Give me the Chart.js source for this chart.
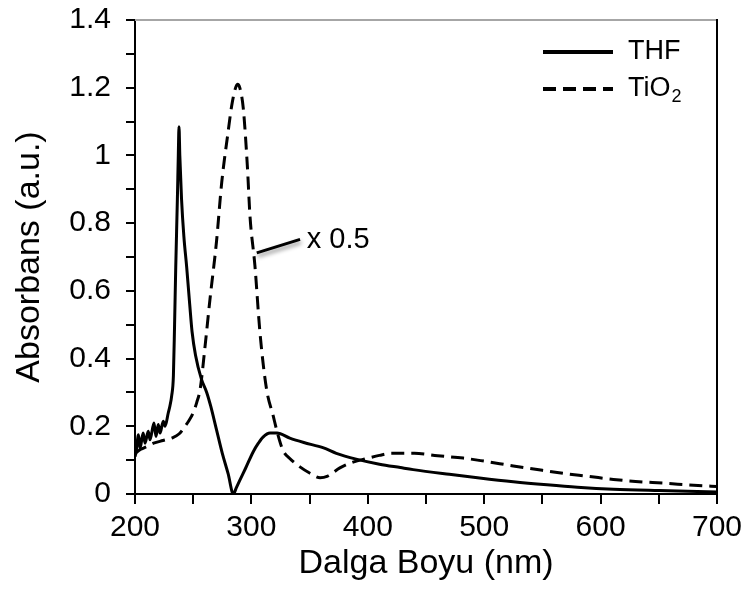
<!DOCTYPE html>
<html><head><meta charset="utf-8">
<script src="https://cdn.jsdelivr.net/npm/chart.js@4.4.1/dist/chart.umd.min.js"></script>
<style>html,body{margin:0;padding:0;background:#fff}#wrap{width:749px;height:592px}</style>
</head><body><div id="wrap"><canvas id="c" width="749" height="592"></canvas></div>
<script>
// ---- data ----
const xTicks = [200, 300, 400, 500, 600, 700];
const yTicks = [0, 0.2, 0.4, 0.6, 0.8, 1, 1.2, 1.4];
const seriesNames = ['THF', 'TiO\u2082'];
const xTitle = 'Dalga Boyu (nm)';
const yTitle = 'Absorbans (a.u.)';
const annotText = 'x 0.5';

const thfX = [200,201,203,204.3,207,208.6,211.4,212.9,216.3,218,220,221.5,224.3,225.8,228.6,230,231.5,233,234,235,236.4,237.2,237.8,238.5,240,242,244.4,247,249,252,257,261.6,265,270,275,280,284.5,287,290,295,301.6,306,310,316,322,333,345,362,373,390,410,428,439,470,496,525,554,580,611,650,700];
const thfY = [0.11,0.125,0.175,0.135,0.18,0.15,0.185,0.16,0.21,0.17,0.205,0.18,0.215,0.2,0.24,0.26,0.29,0.35,0.5,0.67,0.87,1.0,1.085,1.0,0.87,0.76,0.67,0.56,0.48,0.41,0.34,0.3,0.26,0.19,0.12,0.06,0.0,0.018,0.04,0.076,0.125,0.15,0.168,0.18,0.18,0.165,0.152,0.136,0.12,0.103,0.088,0.078,0.072,0.058,0.047,0.036,0.027,0.02,0.014,0.01,0.006];

const tioX = [200,205,210,216,224,232,238,243,246,250,253,256,260,264.4,270,274.5,280,283,286,288,290,293,296.5,298.8,303,307.4,313,318.8,322,327,333,341.7,350,359,365,376,388,398,410,420,440,460,482,500,525,550,568,590,611,630,654,680,700];
const tioY = [0.12,0.132,0.14,0.15,0.158,0.166,0.178,0.2,0.215,0.24,0.27,0.31,0.43,0.575,0.745,0.92,1.07,1.145,1.195,1.21,1.2,1.14,0.97,0.82,0.675,0.475,0.31,0.23,0.185,0.13,0.105,0.08,0.062,0.048,0.052,0.077,0.095,0.104,0.114,0.12,0.12,0.113,0.106,0.097,0.083,0.07,0.061,0.052,0.043,0.037,0.032,0.026,0.022];

// annotation anchor points in data units (nm, absorbance)
const annotFrom = [304.6, 0.712];
const annotTo = [341.8, 0.752];
const annotTextAt = [347.5, 0.75];

// ---- build ----
const FONT = '"Liberation Sans", Arial, Helvetica, sans-serif';
const toPts = (xs, ys) => xs.map((x, i) => ({x: x, y: ys[i]}));

const framePlugin = {
  id: 'frame',
  beforeDatasetsDraw(chart) {
    const {ctx, chartArea: a} = chart;
    ctx.save();
    ctx.lineWidth = 2;
    ctx.strokeStyle = '#a6a6a6';
    ctx.beginPath(); ctx.moveTo(a.left, a.top); ctx.lineTo(a.right + 1, a.top); ctx.stroke();
    ctx.strokeStyle = '#000';
    ctx.beginPath(); ctx.moveTo(a.right, a.top - 1); ctx.lineTo(a.right, a.bottom); ctx.stroke();
    ctx.restore();
  }
};

const annotPlugin = {
  id: 'annot',
  afterDatasetsDraw(chart) {
    const {ctx, scales: {x, y}} = chart;
    const x1 = x.getPixelForValue(annotFrom[0]), y1 = y.getPixelForValue(annotFrom[1]);
    const x2 = x.getPixelForValue(annotTo[0]), y2 = y.getPixelForValue(annotTo[1]);
    ctx.save();
    ctx.shadowColor = 'rgba(0,0,0,0.45)';
    ctx.shadowBlur = 4; ctx.shadowOffsetX = 1; ctx.shadowOffsetY = 3;
    ctx.strokeStyle = '#000'; ctx.lineWidth = 3; ctx.lineCap = 'butt';
    ctx.beginPath(); ctx.moveTo(x1, y1); ctx.lineTo(x2, y2); ctx.stroke();
    ctx.restore();
    ctx.save();
    ctx.fillStyle = '#000';
    ctx.font = '29px ' + FONT;
    ctx.textBaseline = 'middle'; ctx.textAlign = 'left';
    ctx.fillText(annotText, x.getPixelForValue(annotTextAt[0]), y.getPixelForValue(annotTextAt[1]));
    ctx.restore();
  }
};

const legendPlugin = {
  id: 'insideLegend',
  afterDraw(chart) {
    const {ctx, chartArea: a} = chart;
    const x0 = a.right - 174, x1 = a.right - 104, tx = a.right - 89;
    const ys = [a.top + 32, a.top + 69];
    chart.data.datasets.forEach((ds, i) => {
      ctx.save();
      ctx.strokeStyle = ds.borderColor;
      ctx.lineWidth = ds.borderWidth + 1;
      ctx.setLineDash(ds.borderDash || []);
      ctx.beginPath(); ctx.moveTo(x0, ys[i]); ctx.lineTo(x1, ys[i]); ctx.stroke();
      ctx.setLineDash([]);
      ctx.fillStyle = '#000';
      ctx.textBaseline = 'middle'; ctx.textAlign = 'left';
      ctx.font = '27px ' + FONT;
      const label = ds.label;
      const sub = label.indexOf('\u2082');
      if (sub >= 0) {
        const main = label.slice(0, sub);
        ctx.fillText(main, tx, ys[i]);
        const w = ctx.measureText(main).width;
        ctx.font = '18px ' + FONT;
        ctx.fillText('2', tx + w + 1, ys[i] + 8);
      } else {
        ctx.fillText(label, tx, ys[i]);
      }
      ctx.restore();
    });
  }
};

new Chart(document.getElementById('c'), {
  type: 'line',
  data: {
    datasets: [
      { label: seriesNames[0], data: toPts(thfX, thfY), borderColor: '#000', borderWidth: 3,
        pointRadius: 0, fill: false, cubicInterpolationMode: 'monotone' },
      { label: seriesNames[1], data: toPts(tioX, tioY), borderColor: '#000', borderWidth: 3,
        borderDash: [13, 7], pointRadius: 0, fill: false, cubicInterpolationMode: 'monotone' }
    ]
  },
  options: {
    responsive: false,
    animation: false,
    devicePixelRatio: 1,
    layout: { padding: { top: 20, right: 32, left: 0, bottom: 0 } },
    plugins: { legend: { display: false }, tooltip: { enabled: false } },
    scales: {
      x: {
        type: 'linear', min: 200, max: 700,
        afterFit(s) { s.height = 98; s.paddingLeft = 0; s.paddingRight = 0; },
        ticks: {
          stepSize: 50, autoSkip: false, maxRotation: 0, color: '#000', padding: 6,
          font: { family: FONT, size: 30 },
          callback: (v) => xTicks.includes(Math.round(v)) ? String(Math.round(v)) : ''
        },
        grid: { display: true, drawOnChartArea: false, drawTicks: true, tickLength: 10, color: '#000', lineWidth: 2 },
        border: { display: true, color: '#000', width: 2 },
        title: { display: true, text: xTitle, color: '#000', font: { family: FONT, size: 34 }, padding: { top: 0, bottom: 8 } }
      },
      y: {
        type: 'linear', min: 0, max: 1.4,
        afterFit(s) { s.width = 135; s.paddingTop = 0; s.paddingBottom = 0; },
        ticks: {
          stepSize: 0.1, autoSkip: false, color: '#000', padding: 15,
          font: { family: FONT, size: 30 },
          callback: (v) => { const r = Math.round(v * 10) / 10; return yTicks.includes(r) ? String(r) : ''; }
        },
        grid: { display: true, drawOnChartArea: false, drawTicks: true, tickLength: 9, color: '#000', lineWidth: 2 },
        border: { display: true, color: '#000', width: 2 },
        title: { display: true, text: yTitle, color: '#000', font: { family: FONT, size: 34 }, padding: { top: 9, bottom: 0 } }
      }
    }
  },
  plugins: [framePlugin, annotPlugin, legendPlugin]
});
</script>
</body></html>
